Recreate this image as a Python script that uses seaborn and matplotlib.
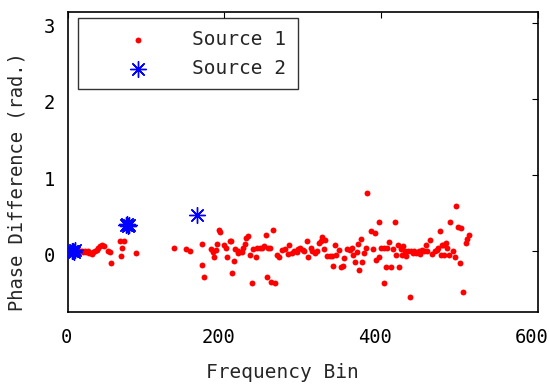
import matplotlib
matplotlib.use("Agg")
import matplotlib.pyplot as plt
from matplotlib.transforms import ScaledTranslation
import seaborn as sns
import pandas as pd

# ---------------- data ----------------
source1_bins = [11, 14, 16, 18, 20, 22, 24, 26, 28, 31, 33, 35, 37, 39, 41, 44, 47, 51, 54, 56,
                67, 72, 70, 68, 87,
                136, 151, 156, 172, 171, 174, 183, 185, 187, 189, 191, 193, 195, 199, 202, 204,
                207, 209, 210, 212, 214, 217, 218, 222, 224, 226, 228, 230, 233, 235, 237, 240,
                242, 245, 248, 251, 253, 256, 255, 258, 260, 262, 264, 267, 270, 274, 277, 281,
                283, 286, 289, 292, 294, 296, 300, 302, 305, 307, 310, 312, 315, 318, 321, 323,
                325, 328, 327, 331, 335, 337, 339, 341, 343, 346, 349, 351, 352, 357, 360, 363,
                364, 366, 369, 371, 372, 374, 376, 378, 381, 382, 387, 390, 392, 394, 397, 397,
                400, 403, 404, 406, 407, 410, 412, 415, 417, 419, 421, 423, 425, 427, 428, 430,
                432, 434, 437, 438, 440, 442, 445, 448, 450, 452, 454, 457, 459, 462, 465, 468,
                471, 473, 475, 476, 478, 479, 480, 483, 484, 486, 488, 492, 494, 496, 498, 500,
                502, 504, 508, 510, 512]
source1_phase = [0.01, 0.00, 0.01, 0.00, -0.01, 0.00, -0.01, 0.00, -0.02, -0.03, -0.01, 0.00, 0.02, 0.05, 0.07, 0.08, 0.07, 0.01, -0.01, -0.15,
                 0.14, 0.13, 0.05, -0.06, -0.02,
                 0.05, 0.03, 0.00, 0.10, -0.18, -0.34, 0.03, -0.01, -0.07, 0.02, 0.09, 0.28, 0.25, 0.08, 0.05, -0.08,
                 0.14, 0.14, -0.29, -0.12, 0.03, 0.01, -0.02, -0.01, 0.04, 0.10, 0.17, 0.20, -0.05, -0.42, 0.03, -0.07,
                 0.04, 0.05, 0.04, 0.07, 0.22, 0.05, -0.34, 0.05, -0.40, 0.28, -0.41, -0.05, -0.07, 0.02, 0.03, -0.03,
                 0.08, -0.02, 0.00, -0.01, 0.03, 0.05, 0.02, 0.01, 0.14, -0.07, 0.05, 0.00, -0.02, 0.01, 0.11, 0.13,
                 0.19, 0.15, 0.03, -0.06, -0.06, -0.06, -0.19, 0.08, -0.05, 0.02, -0.20, -0.19, -0.09, 0.03, 0.02, 0.05,
                 -0.05, -0.14, -0.01, 0.10, -0.25, 0.16, -0.14, -0.02, 0.05, 0.76, 0.27, 0.03, 0.24, -0.11, -0.08, 0.38,
                 0.04, 0.05, -0.42, -0.21, 0.05, 0.12, -0.21, 0.03, 0.38, -0.05, 0.08, -0.21, 0.03, -0.05, 0.07, 0.01,
                 -0.06, 0.01, -0.60, 0.01, -0.02, 0.01, -0.02, 0.00, -0.03, 0.02, 0.00, 0.08, 0.00, 0.15, -0.03, 0.01,
                 0.02, 0.04, 0.27, -0.05, 0.08, 0.08, -0.05, 0.11, 0.04, -0.05, 0.39, 0.00, -0.08, 0.59, 0.32, -0.15,
                 0.30, -0.53, 0.11, 0.16, 0.21]

source2_bins = [6, 7, 8, 9, 74, 76, 77, 79, 165]
source2_phase = [0.00, 0.01, -0.01, 0.02, 0.34, 0.36, 0.33, 0.35, 0.47]

labels = ["Source 1", "Source 2"]
x_label = "Frequency Bin"
y_label = "Phase Difference (rad.)"
x_ticks = [0, 200, 400, 600]
y_ticks = [0, 1, 2, 3]

df1 = pd.DataFrame({"bin": source1_bins, "phase": source1_phase})
df2 = pd.DataFrame({"bin": source2_bins, "phase": source2_phase})

# ---------------- style ----------------
sns.set_style("white")
plt.rcParams["font.family"] = ["DejaVu Sans Mono", "DejaVu Sans"]
FS = 14
TFS = 13.5

fig = plt.figure(figsize=(5.49, 3.90), dpi=100)
ax = fig.add_axes([0.123, 0.201, 0.857, 0.769])

sns.scatterplot(data=df1, x="bin", y="phase", ax=ax, color="#ff0000", marker="o",
                s=18, linewidth=0, label=labels[0], zorder=3)
sns.scatterplot(data=df2, x="bin", y="phase", ax=ax, color="#0000ff", marker=(8, 2, 0),
                s=130, linewidth=1.0, label=labels[1], zorder=4)

ax.set_xlim(0, 600)
ax.set_ylim(-0.79, 3.1416)
ax.set_xticks(x_ticks)
ax.set_yticks(y_ticks)
ax.tick_params(direction="in", length=4, width=0.8, top=True, right=True,
               labelsize=TFS, colors="black")
ax.tick_params(axis="x", pad=11.5)
ax.tick_params(axis="y", pad=9)
for sp in ax.spines.values():
    sp.set_color("black")
    sp.set_linewidth(1.2)

# small label offsets as in the reference rendering
for tick, val in zip(ax.xaxis.get_major_ticks(), x_ticks):
    n = len(str(val))
    dx = (-1.5 - (n - 1) * 2.4) / 100.0
    tick.label1.set_transform(tick.label1.get_transform() +
                              ScaledTranslation(dx, 0, fig.dpi_scale_trans))
for tick in ax.yaxis.get_major_ticks():
    tick.label1.set_transform(tick.label1.get_transform() +
                              ScaledTranslation(0, -3 / 100.0, fig.dpi_scale_trans))

ax.set_xlabel(x_label, fontsize=FS)
ax.set_ylabel(y_label, fontsize=TFS)
ax.xaxis.set_label_coords(0.4567, -0.172)
ax.yaxis.set_label_coords(-0.088, 0.432)

leg = ax.legend(loc="upper left", bbox_to_anchor=(0.0215, 0.978), borderaxespad=0,
                fontsize=FS, frameon=True, fancybox=False, handlelength=5.0,
                handletextpad=0.28, borderpad=0.6, labelspacing=0.5)
leg.get_frame().set_edgecolor("black")
leg.get_frame().set_linewidth(1.0)

fig.savefig("out.png", dpi=100)
